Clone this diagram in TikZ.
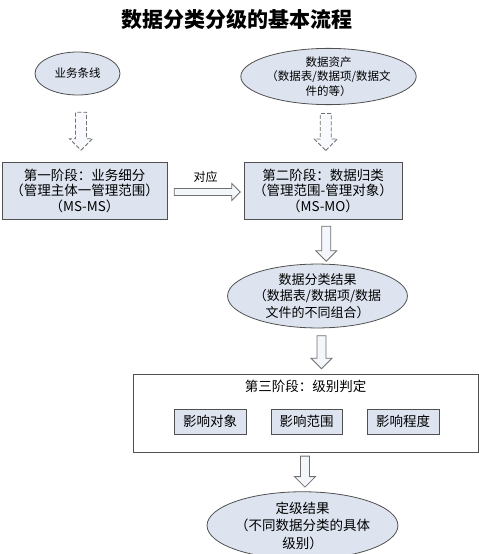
\documentclass[tikz,border=0pt]{standalone}
\usepackage{fontspec}
\setmainfont{Noto Sans CJK SC}
\usetikzlibrary{shapes.geometric}
\usetikzlibrary{shapes.arrows}
\usetikzlibrary{calc}

\definecolor{boxfill}{HTML}{DDE4F0}
\definecolor{boxline}{HTML}{505050}
\definecolor{arrfill}{HTML}{F3F6FB}
\definecolor{arrline}{HTML}{707070}

\begin{document}
\begin{tikzpicture}[x=1pt,y=-1pt,line width=0.8pt,
    stagebox/.style={draw=boxline,fill=boxfill,inner sep=0pt,align=center,
        font=\fontsize{13.5}{15.5}\selectfont},
    oval/.style={ellipse,draw=boxline,fill=boxfill,inner sep=0pt,align=center},
    fatarrow/.style={single arrow,draw=arrline,fill=arrfill,inner xsep=0pt,inner ysep=4pt,
        minimum width=21pt,single arrow head extend=6pt},
    dasharrow/.style={fatarrow,inner ysep=5pt,minimum width=23pt,
        dash pattern=on 4pt off 2pt,fill=arrfill!60!white}]

            %\draw [help lines] (0,0) grid (479,554);
            \useasboundingbox (0,0) rectangle (479,554);

            \path   (236.5,19) node (t) [font=\fontsize{21}{24}\selectfont\bfseries] {数据分类分级的基本流程}
                    (77.5,73.5) node (e1) [oval,minimum width=85pt,minimum height=43pt,
                        font=\fontsize{11.5}{14.5}\selectfont] {业务条线}
                    (328.5,76.5) node (e2) [oval,minimum width=157pt,minimum height=53pt,
                        font=\fontsize{11.5}{14.5}\selectfont] {数据资产\\（数据表/数据项/数据文\\件的等）}
                    (84.5,190.5) node (b1) [stagebox,minimum width=165pt,minimum height=57pt]
                        {第一阶段：业务细分\\（管理主体一管理范围）\\（MS-MS）}
                    (323,190.5) node (b2) [stagebox,minimum width=158pt,minimum height=57pt]
                        {第二阶段：数据归类\\（管理范围-管理对象）\\（MS-MO）}
                    (317.5,296) node (e3) [oval,minimum width=161pt,minimum height=58pt,
                        font=\fontsize{13}{16.5}\selectfont] {数据分类结果\\（数据表/数据项/数据\\文件的不同组合）}
                    (305.5,413) node (g) [draw=boxline,minimum width=345pt,minimum height=78pt] {}
                    (305.5,386) node (gt) [font=\fontsize{13.5}{15.5}\selectfont] {第三阶段：级别判定}
                    (210,421.5) node (s1) [stagebox,minimum width=72pt,minimum height=25pt] {影响对象}
                    (306.5,421.5) node (s2) [stagebox,minimum width=71pt,minimum height=25pt] {影响范围}
                    (403,421.5) node (s3) [stagebox,minimum width=72pt,minimum height=25pt] {影响程度}
                    (302.5,525.5) node (e4) [oval,minimum width=159pt,minimum height=55pt,
                        font=\fontsize{13.5}{17.5}\selectfont] {定级结果\\（不同数据分类的具体\\级别）};

            % arrows between the blocks
            \node (d1) [dasharrow,rotate=-90,minimum height=38pt] at ($(e1.south)!0.5!(b1.north)$) {};
            \node (d2) [dasharrow,rotate=-90,minimum height=37pt] at ($(e2.south)!0.5!(b2.north)+(0,-4)$) {};
            \node (h1) [fatarrow,inner ysep=3pt,minimum height=66pt,minimum width=17pt,single arrow head extend=5pt]
                at ($(b1.east)!0.5!(b2.west)+(0,1.5)$) {};
            \node (l1) [font=\fontsize{12}{14}\selectfont] at ($(h1.north)+(0,-11)$) {对应};
            \node (f1) [fatarrow,rotate=-90,minimum height=35pt] at ($(b2.south)!0.5!(e3.north)+(6,0)$) {};
            \node (f2) [fatarrow,rotate=-90,minimum height=33pt] at ($(e3.south)!0.5!(g.north)+(10,-1)$) {};
            \node (f3) [fatarrow,rotate=-90,minimum height=31pt] at ($(g.south)!0.5!(e4.north)+(1,-2.5)$) {};

\end{tikzpicture}
\end{document}
